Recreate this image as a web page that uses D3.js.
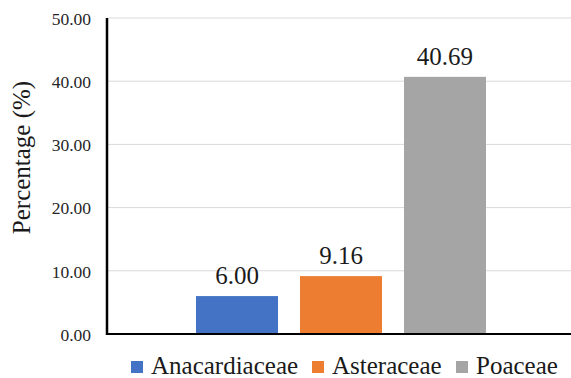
<!DOCTYPE html>
<html>
<head>
<meta charset="utf-8">
<script src="https://cdn.jsdelivr.net/npm/d3@7"></script>
<style>
  html, body { margin: 0; padding: 0; background: #fff; }
  svg { display: block; }
</style>
</head>
<body>
<svg id="chart" width="571" height="378"></svg>
<script>
// Pollen family percentages
const families = ["Anacardiaceae", "Asteraceae", "Poaceae"];
const percentages = [6.00, 9.16, 40.69];
const barColors = ["#4472C4", "#ED7D31", "#A5A5A5"];
const yTicks = [0, 10, 20, 30, 40, 50];

const serifFont = "'Liberation Serif', 'DejaVu Serif', serif";

const svg = d3.select("#chart").style("font-family", serifFont);
const plotLeft = 107, plotRight = 575, plotTop = 18, plotBottom = 334;

const y = d3.scaleLinear().domain([0, 50]).range([plotBottom, plotTop]);
const x = d3.scaleBand()
  .domain(families)
  .range([plotLeft, plotRight])
  .paddingInner(0.2115)
  .paddingOuter(0.8558);

// gridlines
svg.append("g")
  .selectAll("line")
  .data(yTicks.filter(d => d > 0))
  .join("line")
  .attr("x1", plotLeft).attr("x2", 571)
  .attr("y1", d => y(d)).attr("y2", d => y(d))
  .attr("stroke", "#D9D9D9").attr("stroke-width", 1);

// y axis tick labels
const yAxis = d3.axisLeft(y).tickValues(yTicks).tickFormat(d3.format(".2f")).tickSize(0).tickPadding(16);
const gy = svg.append("g").attr("transform", `translate(${plotLeft},0)`).call(yAxis);
gy.attr("font-family", null);
gy.select(".domain").remove();
gy.selectAll("text")
  .style("font-family", serifFont)
  .attr("font-size", 17.5)
  .attr("fill", "#262626")
  .attr("dy", "0.36em");

// bars
svg.append("g")
  .selectAll("rect")
  .data(families.map((f, i) => ({ f, v: percentages[i], c: barColors[i] })))
  .join("rect")
  .attr("x", d => x(d.f))
  .attr("width", x.bandwidth())
  .attr("y", d => y(d.v))
  .attr("height", d => y(0) - y(d.v))
  .attr("fill", d => d.c);

// value labels
svg.append("g")
  .selectAll("text")
  .data(families.map((f, i) => ({ f, v: percentages[i] })))
  .join("text")
  .style("font-family", serifFont)
  .attr("x", d => x(d.f) + x.bandwidth() / 2)
  .attr("y", d => y(d.v) - 12)
  .attr("text-anchor", "middle")
  .attr("font-size", 25)
  .attr("fill", "#1a1a1a")
  .text(d => d3.format(".2f")(d.v));

// axis lines
svg.append("line")
  .attr("x1", plotLeft).attr("x2", 571)
  .attr("y1", plotBottom).attr("y2", plotBottom)
  .attr("stroke", "#000").attr("stroke-width", 2.2);
svg.append("line")
  .attr("x1", plotLeft).attr("x2", plotLeft)
  .attr("y1", plotTop).attr("y2", plotBottom + 1)
  .attr("stroke", "#000").attr("stroke-width", 2.5);

// y axis title
svg.append("text")
  .style("font-family", serifFont)
  .attr("transform", `translate(30,${(80 + 235) / 2}) rotate(-90)`)
  .attr("text-anchor", "middle")
  .attr("font-size", 25)
  .attr("fill", "#1a1a1a")
  .text("Percentage (%)");

// legend
const legendX = [131, 312, 456];
const lg = svg.append("g")
  .selectAll("g")
  .data(families)
  .join("g")
  .attr("transform", (d, i) => `translate(${legendX[i]},0)`);
lg.append("rect")
  .attr("x", 0).attr("y", 361)
  .attr("width", 12).attr("height", 12)
  .attr("fill", (d, i) => barColors[i]);
lg.append("text")
  .style("font-family", serifFont)
  .attr("x", 20).attr("y", 374)
  .attr("font-size", 25)
  .attr("fill", "#1a1a1a")
  .text(d => d);
</script>
</body>
</html>
